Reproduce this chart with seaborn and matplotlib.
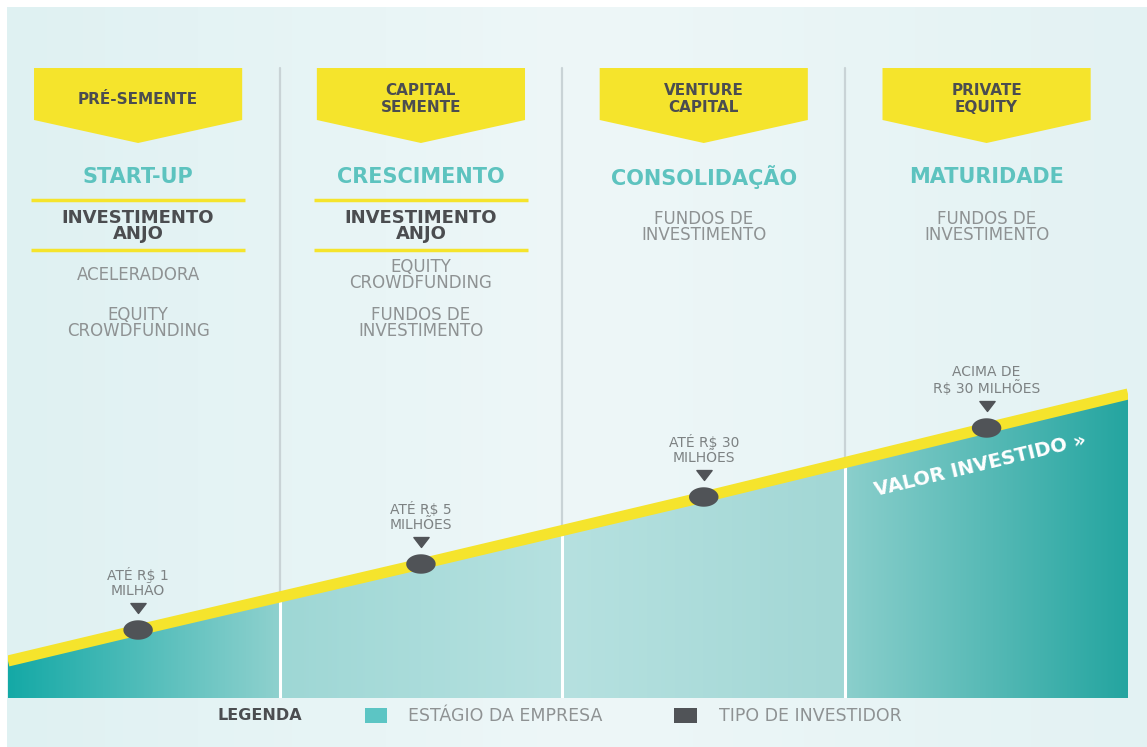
import matplotlib
matplotlib.use("Agg")
import matplotlib.pyplot as plt
import matplotlib.patches as mpatches
import matplotlib.transforms as mtransforms
from matplotlib.path import Path
from matplotlib.colors import LinearSegmentedColormap
import numpy as np
import pandas as pd
import seaborn as sns

investor_rounds = ["PRÉ-SEMENTE", "CAPITAL\nSEMENTE", "VENTURE\nCAPITAL", "PRIVATE\nEQUITY"]
company_stages = ["START-UP", "CRESCIMENTO", "CONSOLIDAÇÃO", "MATURIDADE"]
key_investor = ["INVESTIMENTO\nANJO", "INVESTIMENTO\nANJO", None, None]
other_investors = [["ACELERADORA", "EQUITY\nCROWDFUNDING"],
                   ["EQUITY\nCROWDFUNDING", "FUNDOS DE\nINVESTIMENTO"],
                   ["FUNDOS DE\nINVESTIMENTO"],
                   ["FUNDOS DE\nINVESTIMENTO"]]
amount_labels = ["ATÉ R$ 1\nMILHÃO", "ATÉ R$ 5\nMILHÕES", "ATÉ R$ 30\nMILHÕES", "ACIMA DE\nR$ 30 MILHÕES"]

stage_pos = [0.5, 1.5, 2.5, 3.5]
invested_level = [68, 134, 201, 270]
line_pos = [0.04, 0.5, 1.5, 2.5, 3.5, 4.0]
line_level = [37, 68, 134, 201, 270, 304]

legend_labels = ["ESTÁGIO DA EMPRESA", "TIPO DE INVESTIDOR"]

YELLOW = "#f5e42c"
TEAL = "#5dc3bf"
DARK = "#4b4d50"
GRAY = "#8e9293"
DOT = "#505357"
fill_colors = [("#14a9a6", "#8fd1ce"), ("#9ed7d5", "#b6e1e0"),
               ("#b6e1e0", "#a2d7d5"), ("#8bcfcc", "#24a5a0")]

sns.set_style("white")
plt.rcParams["font.family"] = ["DejaVu Sans"]

fig = plt.figure(figsize=(11.47, 7.47), dpi=100)
fig.patch.set_facecolor("white")

# background gradient
bg = fig.add_axes([7 / 1147, 0, 1 - 7 / 1147, 740 / 747])
bg_cmap = LinearSegmentedColormap.from_list("bg", ["#dff1f2", "#eef7f8", "#e3f2f3"])
bg.imshow(np.linspace(0, 1, 256)[None, :], cmap=bg_cmap, aspect="auto", extent=(0, 1, 0, 1))
bg.set_axis_off()

ax = fig.add_axes([8 / 1147, 49 / 747, 1120 / 1147, 691 / 747])
ax.set_axis_off()

# gradient fill under the line, one gradient per stage column
poly = ax.fill_between(line_pos, line_level, 0, color="none", lw=0)
clip = poly.get_paths()[0]
for i, (c0, c1) in enumerate(fill_colors):
    cmap = LinearSegmentedColormap.from_list(f"f{i}", [c0, c1])
    im = ax.imshow(np.linspace(0, 1, 256)[None, :], cmap=cmap, aspect="auto",
                   extent=(max(i, 0.04), i + 1, 0, 320), zorder=2)
    im.set_clip_path(clip, ax.transData)

# column separators
for b in [1, 2, 3]:
    yb = np.interp(b, line_pos, line_level)
    ax.plot([b, b], [yb, 630], color="#c9d3d6", lw=1.6, zorder=1)
    ax.plot([b, b], [0, yb], color="white", lw=2.2, zorder=2.5)

# investment line
sns.lineplot(x=line_pos, y=line_level, color=YELLOW, lw=8, ax=ax, zorder=3,
             solid_capstyle="butt")

# dots (slightly flattened) and small pointer triangles above them
t = np.linspace(0, 2 * np.pi, 60)
ellipse = Path(np.c_[np.cos(t), 0.66 * np.sin(t)], closed=True)
tri = Path([(-1, 0.65), (1, 0.65), (0, -0.65), (-1, 0.65)], closed=True)
dots = pd.DataFrame({"stage": stage_pos, "valor": invested_level})
sns.scatterplot(data=dots, x="stage", y="valor", marker=ellipse, s=450, color=DOT,
                edgecolor="none", ax=ax, zorder=4)
up = ax.transData + mtransforms.ScaledTranslation(0, 22 / 100, fig.dpi_scale_trans)
ax.plot(stage_pos, invested_level, marker=tri, ms=11, color=DOT, lw=0, zorder=4, transform=up)

for c, v, lab in zip(stage_pos, invested_level, amount_labels):
    ax.annotate(lab, (c, v), xytext=(0, 34), textcoords="offset points", ha="center", va="center",
                fontsize=10, color="#7d8283", linespacing=1.05, parse_math=False)

# header banners and texts
for i, c in enumerate(stage_pos):
    ax.add_patch(mpatches.Polygon([(c - 0.368, 630), (c + 0.368, 630), (c + 0.368, 578),
                                   (c, 555), (c - 0.368, 578)], closed=True,
                                  fc=YELLOW, ec="none", zorder=3))
    ax.text(c, 599, investor_rounds[i], ha="center", va="center", fontsize=11,
            weight="bold", color=DARK, linespacing=1.12, zorder=4)
    ax.text(c, 521, company_stages[i], ha="center", va="center", fontsize=15,
            weight="bold", color=TEAL)
    if key_investor[i]:
        ax.hlines([498, 448], c - 0.377, c + 0.377, color=YELLOW, lw=2.5)
        ax.text(c, 472, key_investor[i], ha="center", va="center", fontsize=13,
                weight="bold", color=DARK, linespacing=0.9)
        ys = [423, 375]
    else:
        ys = [471]
    for y, txt in zip(ys, other_investors[i]):
        ax.text(c, y, txt, ha="center", va="center", fontsize=12, color=GRAY,
                linespacing=0.86)

ax.text(3.477, 233, "VALOR INVESTIDO »", rotation=13.5, rotation_mode="anchor",
        ha="center", va="center", color="white", weight="bold", fontsize=14, zorder=5)

ax.set_xlim(0.04, 4.0)
ax.set_ylim(0, 691)

# legend row
fy = (747 - 716) / 747
fig.text(260 / 1147, fy, "LEGENDA", ha="center", va="center", fontsize=11.5, weight="bold", color=DARK)
fig.patches.append(mpatches.Rectangle((365 / 1147, (747 - 723) / 747), 22 / 1147, 15 / 747,
                                      transform=fig.transFigure, fc="#5cc5c4", ec="none"))
fig.text(408 / 1147, fy, legend_labels[0], ha="left", va="center", fontsize=12.5, color=GRAY)
fig.patches.append(mpatches.Rectangle((674 / 1147, (747 - 723) / 747), 23 / 1147, 15 / 747,
                                      transform=fig.transFigure, fc="#505357", ec="none"))
fig.text(719 / 1147, fy, legend_labels[1], ha="left", va="center", fontsize=12.5, color=GRAY)

fig.savefig("out.png", dpi=100)
